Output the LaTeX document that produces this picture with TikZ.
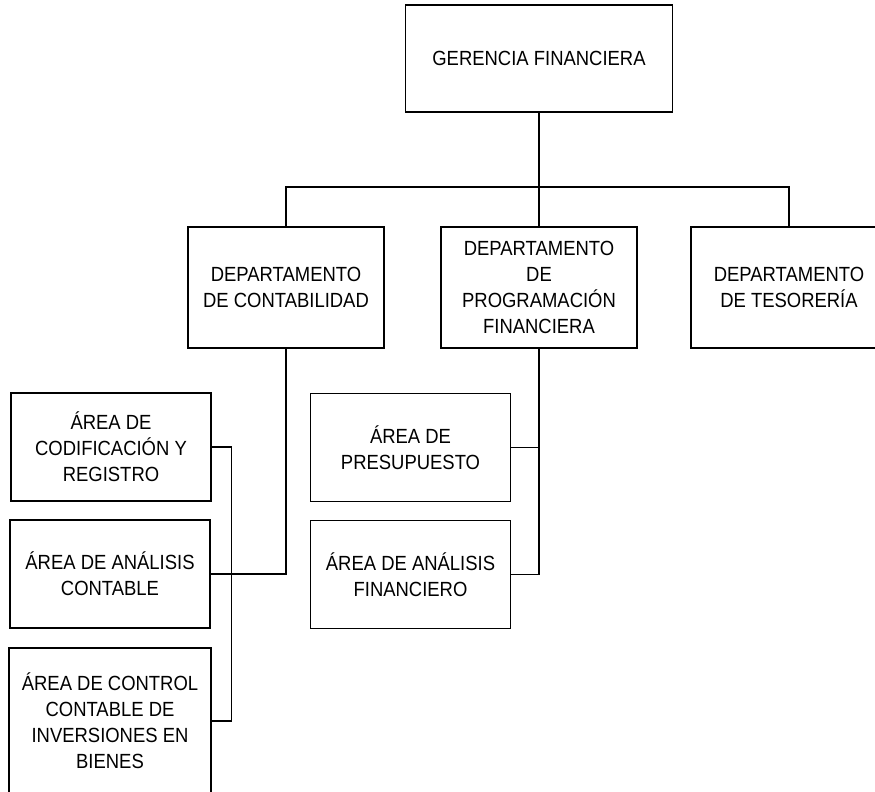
\documentclass[tikz,border=0pt]{standalone}
\usepackage{fontspec}
\setmainfont{Liberation Sans}[FakeStretch=0.9]
\begin{document}
\begin{tikzpicture}[x=1pt,y=-1pt,
  box/.style={draw,line width=1.1pt,align=center,inner sep=0pt,
    font=\fontsize{20.5}{26}\selectfont,minimum width=#1},
  box/.default=198pt,
  dept/.style={box=196pt,minimum height=121pt},
  area/.style={box=200pt,minimum height=108pt},
  link/.style={line width=1.1pt}]
  \useasboundingbox (0,0) rectangle (875,792);
  % gerencia
  \node[box=267pt,minimum height=107pt] (gerencia) at (539,58.5) {GERENCIA FINANCIERA};
  % departamentos
  \node[dept] (contab) at (286,287.5) {DEPARTAMENTO\\DE CONTABILIDAD};
  \node[dept] (progr) at (539,287.5) {DEPARTAMENTO\\DE\\PROGRAMACIÓN\\FINANCIERA};
  \node[dept] (tesor) at (789,287.5) {DEPARTAMENTO\\DE TESORERÍA};
  % areas de contabilidad
  \node[area] (codif) at (111,447) {ÁREA DE\\CODIFICACIÓN Y\\REGISTRO};
  \node[area] (anacont) at (110,574) {ÁREA DE ANÁLISIS\\CONTABLE};
  \node[box=202pt,minimum height=146pt] (control) at (110,721)
    {ÁREA DE CONTROL\\CONTABLE DE\\INVERSIONES EN\\BIENES};
  % areas de programacion
  \node[area] (presup) at (410.5,447.5) {ÁREA DE\\PRESUPUESTO};
  \node[area] (anafin) at (410.5,574.5) {ÁREA DE ANÁLISIS\\FINANCIERO};
  \coordinate (bus) at (539,187);
  \draw[link] (gerencia.south) -- (progr.north);
  \draw[link] (contab.north) |- (bus) -| (tesor.north);
  \draw[link] (contab.south) |- (anacont.east);
  \draw[link] (codif.east) -- ++(20,0) |- (control.east);
  \draw[link] (progr.south) |- (anafin.east);
  \draw[link] (presup.east) -- (presup.east -| progr.south);
\end{tikzpicture}
\end{document}
